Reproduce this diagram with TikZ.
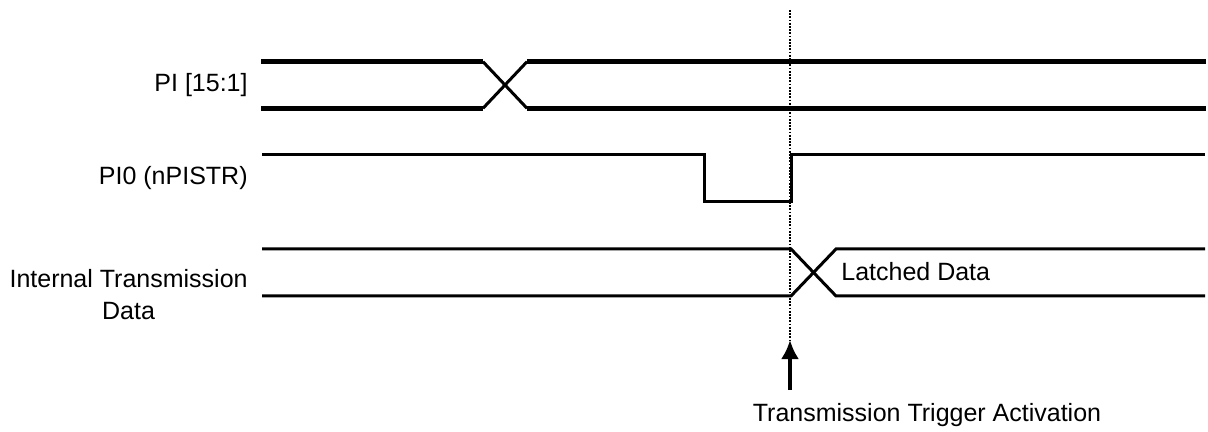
\documentclass[tikz,border=0pt]{standalone}
\usepackage{fontspec}
\setmainfont{Liberation Sans}
\usetikzlibrary{arrows.meta}

\begin{document}
\begin{tikzpicture}[x=0.5pt, y=-0.5pt,
		bus/.style={line width=2.5pt},
		sig/.style={line width=1.5pt},
		lbl/.style={inner sep=0pt, font=\fontsize{12.5}{16}\selectfont}]
			%%%%% START %%%%%
			\useasboundingbox (0, 0) rectangle (1208, 432);
			
			\node[lbl, anchor=east] (pibus) at (248, 85) {PI [15:1]};
			\node[lbl, anchor=east] (pistr) at (248, 178) {PI0 (nPISTR)};
			\node[lbl, anchor=east, align=center] (itd) at (248, 295) {Internal Transmission\\Data};
			
			% PI [15:1]
			\draw[bus] (261, 61.7) -- (483, 61.7);
			\draw[bus] (261, 108.3) -- (483, 108.3);
			\draw[sig] (483, 61.7) -- (527, 108.3);
			\draw[sig] (483, 108.3) -- (527, 61.7);
			\draw[bus] (527, 61.7) -- (1206, 61.7);
			\draw[bus] (527, 108.3) -- (1206, 108.3);
			
			% PI0 (nPISTR)
			\draw[sig] (262, 155) -- (704, 155) -- (704, 202) -- (791, 202) -- (791, 155) -- (1205, 155);
			
			% Internal Transmission Data
			\draw[sig] (262, 249) -- (791, 249) -- (836, 296) -- (1205, 296);
			\draw[sig] (262, 296) -- (791, 296) -- (836, 249) -- (1205, 249);
			\node[lbl, anchor=west] (latch) at (841, 272) {Latched Data};
			
			% trigger
			\coordinate (top) at (790, 10);
			\coordinate (tip) at (790, 340);
			\coordinate (tail) at (790, 390);
			\draw[line width=1.3pt, dash pattern=on 0.9pt off 0.7pt] (top) -- (tip);
			\draw[line width=1.8pt, -{Latex[length=9.5pt, width=9pt]}] (tail) -- (tip);
			\node[lbl] (act) at (927, 415) {Transmission Trigger Activation};
			
			%%%%% END %%%%%
		\end{tikzpicture}
\end{document}
